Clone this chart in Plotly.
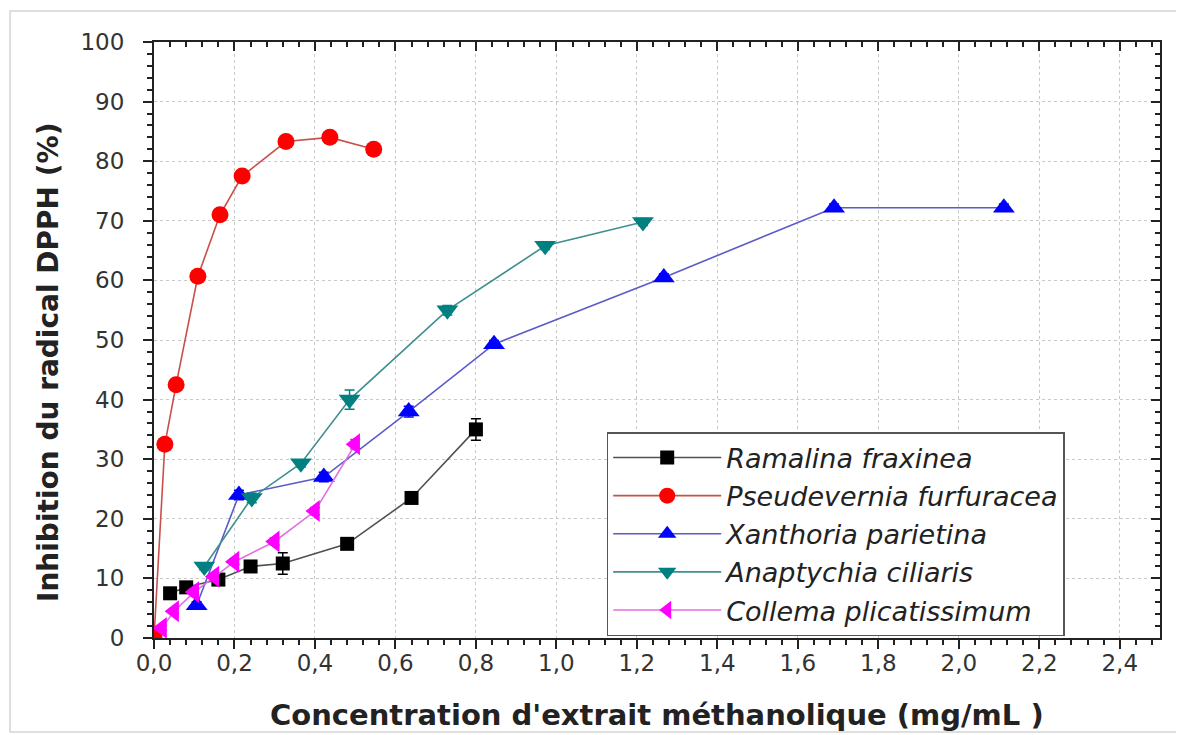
import plotly.graph_objects as go

# ---------------- data ----------------
x_tick_vals = [0.0, 0.2, 0.4, 0.6, 0.8, 1.0, 1.2, 1.4, 1.6, 1.8, 2.0, 2.2, 2.4]
y_tick_vals = [0, 10, 20, 30, 40, 50, 60, 70, 80, 90, 100]

ram_x = [0.04, 0.08, 0.16, 0.24, 0.32, 0.48, 0.64, 0.80]
ram_y = [7.5, 8.5, 9.8, 12.0, 12.5, 15.8, 23.5, 35.0]
ram_e = [0.5, 0.5, 0.8, 0.6, 1.8, 0.6, 0.8, 1.8]

pse_x = [0.0, 0.027, 0.055, 0.109, 0.164, 0.219, 0.328, 0.437, 0.546]
pse_y = [0.0, 32.5, 42.5, 60.7, 71.0, 77.5, 83.3, 84.0, 82.0]
pse_e = [0.0, 0.6, 0.6, 0.8, 0.6, 0.6, 0.8, 0.6, 0.6]

xan_x = [0.106, 0.211, 0.422, 0.633, 0.845, 1.267, 1.690, 2.112]
xan_y = [5.5, 24.0, 27.0, 38.0, 49.3, 60.5, 72.2, 72.2]
xan_e = [0.6, 0.8, 0.8, 0.9, 0.6, 0.6, 0.6, 0.6]

ana_x = [0.125, 0.243, 0.365, 0.486, 0.729, 0.972, 1.215]
ana_y = [12.0, 23.5, 29.3, 40.0, 55.0, 65.8, 69.8]
ana_e = [0.6, 0.8, 0.6, 1.6, 0.8, 0.6, 0.6]

col_x = [0.02, 0.05, 0.10, 0.15, 0.20, 0.30, 0.40, 0.50]
col_y = [1.7, 4.5, 7.7, 10.3, 12.8, 16.2, 21.3, 32.5]
col_e = [0.4, 0.4, 0.5, 0.5, 0.5, 0.6, 0.6, 0.8]

names = ["Ramalina fraxinea", "Pseudevernia furfuracea", "Xanthoria parietina",
         "Anaptychia ciliaris", "Collema plicatissimum"]

x_title = "Concentration d'extrait méthanolique (mg/mL )"
y_title = "Inhibition du radical DPPH (%)"

# ---------------- figure ----------------
fig = go.Figure()

series = [
    (ram_x, ram_y, ram_e, names[0], "#000000", "#505050", "square", 14),
    (pse_x, pse_y, pse_e, names[1], "#ff0000", "#c8504a", "circle", 17),
    (xan_x, xan_y, xan_e, names[2], "#0000ff", "#5a5ac8", "triangle-up", 19),
    (ana_x, ana_y, ana_e, names[3], "#008080", "#3f8f8f", "triangle-down", 19),
    (col_x, col_y, col_e, names[4], "#ff00ff", "#e070e0", "triangle-left", 19),
]

for xs, ys, es, nm, mc, lc, sym, sz in series:
    fig.add_trace(go.Scatter(
        x=xs, y=ys, name=nm, mode="lines+markers",
        line=dict(color=lc, width=1.6),
        marker=dict(symbol=sym, size=sz, color=mc, line=dict(width=0)),
        error_y=dict(type="data", array=es, color=mc, thickness=1.5, width=5),
    ))

# empty helper trace to host the mirrored top/right axes
fig.add_trace(go.Scatter(x=[], y=[], xaxis="x2", yaxis="y2",
                         showlegend=False, hoverinfo="skip"))

tick_font = dict(family="DejaVu Sans, sans-serif", size=23, color="#333333")

fig.update_layout(
    width=1176, height=727,
    margin=dict(l=146, r=24, t=34, b=97),
    paper_bgcolor="white", plot_bgcolor="white",
    separators=", ",
    showlegend=True,
    legend=dict(
        x=0.450, y=0.3456, xanchor="left", yanchor="top",
        bgcolor="white", bordercolor="#555555", borderwidth=1.5,
        font=dict(family="DejaVu Sans, sans-serif", size=27, color="#222222", style="italic"),
        itemwidth=108, tracegroupgap=0,
    ),
    xaxis=dict(
        range=[0, 2.5], tickvals=x_tick_vals, tickformat=".1f",
        ticks="outside", ticklen=9, tickwidth=2, tickcolor="#222",
        showline=True, linecolor="#222", linewidth=2,
        showgrid=True, gridcolor="#c8c8c8", griddash="dot", gridwidth=1,
        zeroline=False, tickfont=tick_font, ticklabelstandoff=-6,
        minor=dict(dtick=0.04, ticks="outside", ticklen=5, tickwidth=1.5,
                   tickcolor="#222", showgrid=False),
    ),
    yaxis=dict(
        range=[0, 100], tickvals=y_tick_vals,
        ticks="outside", ticklen=9, tickwidth=2, tickcolor="#222",
        showline=True, linecolor="#222", linewidth=2,
        showgrid=True, gridcolor="#c8c8c8", griddash="dot", gridwidth=1,
        zeroline=False, tickfont=tick_font, ticklabelstandoff=14,
        minor=dict(dtick=2, ticks="outside", ticklen=5, tickwidth=1.5,
                   tickcolor="#222", showgrid=False),
    ),
    xaxis2=dict(
        overlaying="x", side="top", anchor="y2", range=[0, 2.5],
        tickvals=x_tick_vals, showticklabels=False,
        ticks="inside", ticklen=9, tickwidth=2, tickcolor="#222",
        showline=True, linecolor="#222", linewidth=2, showgrid=False, zeroline=False,
        minor=dict(dtick=0.04, ticks="inside", ticklen=5, tickwidth=1.5, tickcolor="#222"),
    ),
    yaxis2=dict(
        overlaying="y", side="right", anchor="x2", range=[0, 100],
        tickvals=y_tick_vals, showticklabels=False,
        ticks="inside", ticklen=9, tickwidth=2, tickcolor="#222",
        showline=True, linecolor="#222", linewidth=2, showgrid=False, zeroline=False,
        minor=dict(dtick=2, ticks="inside", ticklen=5, tickwidth=1.5, tickcolor="#222"),
    ),
    annotations=[
        dict(text=x_title, xref="paper", yref="paper", x=0.5, y=-0.130,
             xanchor="center", yanchor="middle", showarrow=False,
             font=dict(family="DejaVu Sans, sans-serif", size=29, color="#222222", weight="bold")),
        dict(text=y_title, xref="paper", yref="paper", x=-0.1054, y=0.463,
             xanchor="center", yanchor="middle", textangle=-90, showarrow=False,
             font=dict(family="DejaVu Sans, sans-serif", size=28, color="#222222", weight="bold")),
    ],
    shapes=[
        dict(type="rect", xref="paper", yref="paper",
             x0=-0.1431, x1=1.0219, y0=-0.1577, y1=1.052,
             line=dict(color="#d4d4d4", width=1.5), fillcolor="rgba(0,0,0,0)", layer="below"),
    ],
)

fig.write_html("out.html")
